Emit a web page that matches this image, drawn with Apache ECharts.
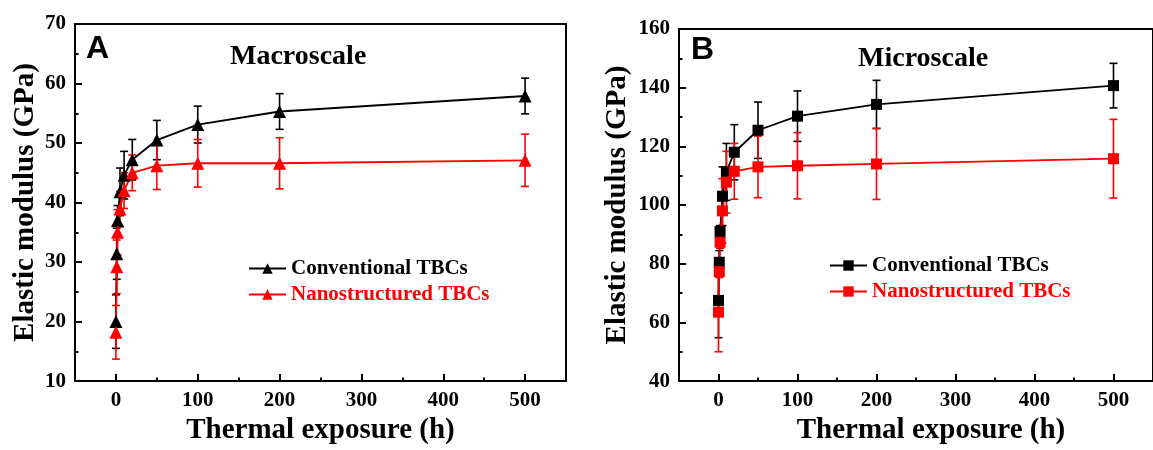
<!DOCTYPE html>
<html>
<head>
<meta charset="utf-8">
<script src="https://cdn.jsdelivr.net/npm/echarts@6/dist/echarts.min.js"></script>
<style>
  html, body { margin: 0; padding: 0; background: #fff; }
  #chart { width: 1153px; height: 450px; }
</style>
</head>
<body>
<div id="chart"></div>
<script>
// thermal exposure times (h)
const times = [0, 1, 2, 5, 10, 20, 50, 100, 200, 500];

// A - macroscale (GPa)
const macroConv = [20, 31.4, 37, 41.8, 44.6, 47.2, 50.5, 53.1, 55.3, 57.9];
const macroConvErr = [4.5, 4.3, 2.5, 4.0, 4.0, 3.4, 3.3, 3.1, 3.0, 3.0];
const macroNano = [18.2, 29.2, 35, 38.9, 42, 45, 46.2, 46.6, 46.6, 47.1];
const macroNanoErr = [4.5, 4.5, 3.8, 3.0, 3.0, 3.0, 4.0, 4.0, 4.3, 4.4];

// B - microscale (GPa)
const microConv = [67.5, 80.5, 91, 103, 111.3, 118, 125.5, 130.3, 134.3, 140.7];
const microConvErr = [12.7, 4, 2, 10, 9.7, 9.4, 9.6, 8.6, 8.2, 7.6];
const microNano = [63.5, 77.3, 87.3, 98, 107.8, 111.5, 113, 113.4, 114, 115.8];
const microNanoErr = [13.5, 2, 2, 11, 10.5, 9.5, 10.5, 11.3, 12.1, 13.4];

const xMajor = [0, 100, 200, 300, 400, 500];
const xMinor = [50, 150, 250, 350, 450];

const CONV = 'Conventional TBCs';
const NANO = 'Nanostructured TBCs';

const SERIF = 'Liberation Serif, Times New Roman, serif';
const RED = '#ff0000';
const BLACK = '#000000';

function pts(vals) {
  return times.map((t, i) => [t, vals[i]]);
}

function errRows(vals, errs) {
  return times.map((t, i) => [t, vals[i] - errs[i], vals[i] + errs[i]]);
}

function errBar(color) {
  return function (params, api) {
    const lo = api.coord([api.value(0), api.value(1)]);
    const hi = api.coord([api.value(0), api.value(2)]);
    const c = 4;
    const st = { stroke: color, lineWidth: 1.6 };
    return {
      type: 'group',
      children: [
        { type: 'line', shape: { x1: lo[0], y1: lo[1], x2: hi[0], y2: hi[1] }, style: st },
        { type: 'line', shape: { x1: lo[0] - c, y1: lo[1], x2: lo[0] + c, y2: lo[1] }, style: st },
        { type: 'line', shape: { x1: hi[0] - c, y1: hi[1], x2: hi[0] + c, y2: hi[1] }, style: st }
      ]
    };
  };
}

function xAxes(gridIndex, nameOffset) {
  return [
    {
      type: 'value', gridIndex: gridIndex, min: -50, max: 550, position: 'bottom',
      name: 'Thermal exposure (h)', nameLocation: 'middle', nameGap: 31,
      nameTextStyle: {
        fontFamily: SERIF, fontWeight: 'bold', fontSize: 29, color: BLACK, lineHeight: 29,
        padding: [0, 0, 0, nameOffset]
      },
      axisLine: { show: true, onZero: false, lineStyle: { color: BLACK, width: 2 } },
      axisTick: { show: true, inside: true, length: 7, customValues: xMajor, lineStyle: { color: BLACK, width: 2 } },
      axisLabel: {
        customValues: xMajor, margin: 9, color: BLACK,
        fontFamily: SERIF, fontWeight: 'bold', fontSize: 21
      },
      splitLine: { show: false }
    },
    {
      type: 'value', gridIndex: gridIndex, min: -50, max: 550, position: 'bottom', offset: 0,
      axisLine: { show: false, onZero: false },
      axisTick: { show: true, inside: true, length: 3.5, customValues: xMinor, lineStyle: { color: BLACK, width: 2 } },
      axisLabel: { show: false },
      splitLine: { show: false }
    }
  ];
}

function yAxis(gridIndex, min, max, interval, gap) {
  return {
    type: 'value', gridIndex: gridIndex, min: min, max: max, interval: interval, position: 'left',
    name: 'Elastic modulus (GPa)', nameLocation: 'middle', nameGap: gap, nameRotate: 90,
    nameTextStyle: { fontFamily: SERIF, fontWeight: 'bold', fontSize: 29, color: BLACK, lineHeight: 29 },
    axisLine: { show: true, onZero: false, lineStyle: { color: BLACK, width: 2 } },
    axisTick: { show: true, inside: true, length: 7, lineStyle: { color: BLACK, width: 2 } },
    minorTick: { show: true, splitNumber: 2, length: 3.5, lineStyle: { color: BLACK, width: 2 } },
    axisLabel: { margin: 9, color: BLACK, fontFamily: SERIF, fontWeight: 'bold', fontSize: 21 },
    splitLine: { show: false }
  };
}

// panel prefix keeps legend symbols apart (triangle in A, square in B)
function lineSeries(panel, name, vals, color, symbol, size, axisIdx) {
  return {
    type: 'line', name: panel + name, data: pts(vals),
    xAxisIndex: axisIdx, yAxisIndex: axisIdx / 2,
    symbol: symbol, symbolSize: size, showSymbol: true,
    lineStyle: { color: color, width: 1.8 },
    itemStyle: { color: color },
    silent: true
  };
}

function errSeries(vals, errs, color, axisIdx) {
  return {
    type: 'custom', name: 'err', data: errRows(vals, errs),
    xAxisIndex: axisIdx, yAxisIndex: axisIdx / 2,
    encode: { x: 0, y: [1, 2] },
    renderItem: errBar(color),
    silent: true
  };
}

function legend(panel, left, top) {
  return {
    left: left, top: top, orient: 'vertical', padding: 0,
    itemWidth: 37, itemHeight: 13, itemGap: 5,
    textStyle: { fontFamily: SERIF, fontWeight: 'bold', fontSize: 21, lineHeight: 21, color: BLACK },
    formatter: (n) => n.slice(2),
    data: [
      { name: panel + CONV, textStyle: { color: BLACK } },
      { name: panel + NANO, textStyle: { color: RED } }
    ],
    selectedMode: false
  };
}

const titleStyle = { fontFamily: SERIF, fontWeight: 'bold', fontSize: 28, lineHeight: 28, color: BLACK };
const letterStyle = { fontFamily: 'Liberation Sans, Arial, sans-serif', fontWeight: 'bold', fontSize: 32, lineHeight: 32, color: BLACK };

const chart = echarts.init(document.getElementById('chart'));
chart.setOption({
  animation: false,
  backgroundColor: '#ffffff',
  title: [
    { text: 'A', left: 86, top: 33, padding: 0, textStyle: letterStyle },
    { text: 'Macroscale', left: 230, top: 43, padding: 0, textStyle: titleStyle },
    { text: 'B', left: 691, top: 34, padding: 0, textStyle: letterStyle },
    { text: 'Microscale', left: 858, top: 45, padding: 0, textStyle: titleStyle }
  ],
  legend: [legend('A:', 248, 258), legend('B:', 829, 255)],
  grid: [
    { left: 75, top: 24, width: 491, height: 362, show: true, borderColor: BLACK, borderWidth: 2, backgroundColor: 'transparent' },
    { left: 679, top: 29, width: 480, height: 357, show: true, borderColor: BLACK, borderWidth: 2, backgroundColor: 'transparent' }
  ],
  xAxis: [...xAxes(0, 0), ...xAxes(1, 30)],
  yAxis: [yAxis(0, 10, 70, 10, 35), yAxis(1, 40, 160, 20, 47)],
  series: [
    errSeries(macroConv, macroConvErr, BLACK, 0),
    lineSeries('A:', CONV, macroConv, BLACK, 'triangle', 13, 0),
    errSeries(macroNano, macroNanoErr, RED, 0),
    lineSeries('A:', NANO, macroNano, RED, 'triangle', 13, 0),
    errSeries(microConv, microConvErr, BLACK, 2),
    lineSeries('B:', CONV, microConv, BLACK, 'rect', 11, 2),
    errSeries(microNano, microNanoErr, RED, 2),
    lineSeries('B:', NANO, microNano, RED, 'rect', 11, 2)
  ]
});
</script>
</body>
</html>
